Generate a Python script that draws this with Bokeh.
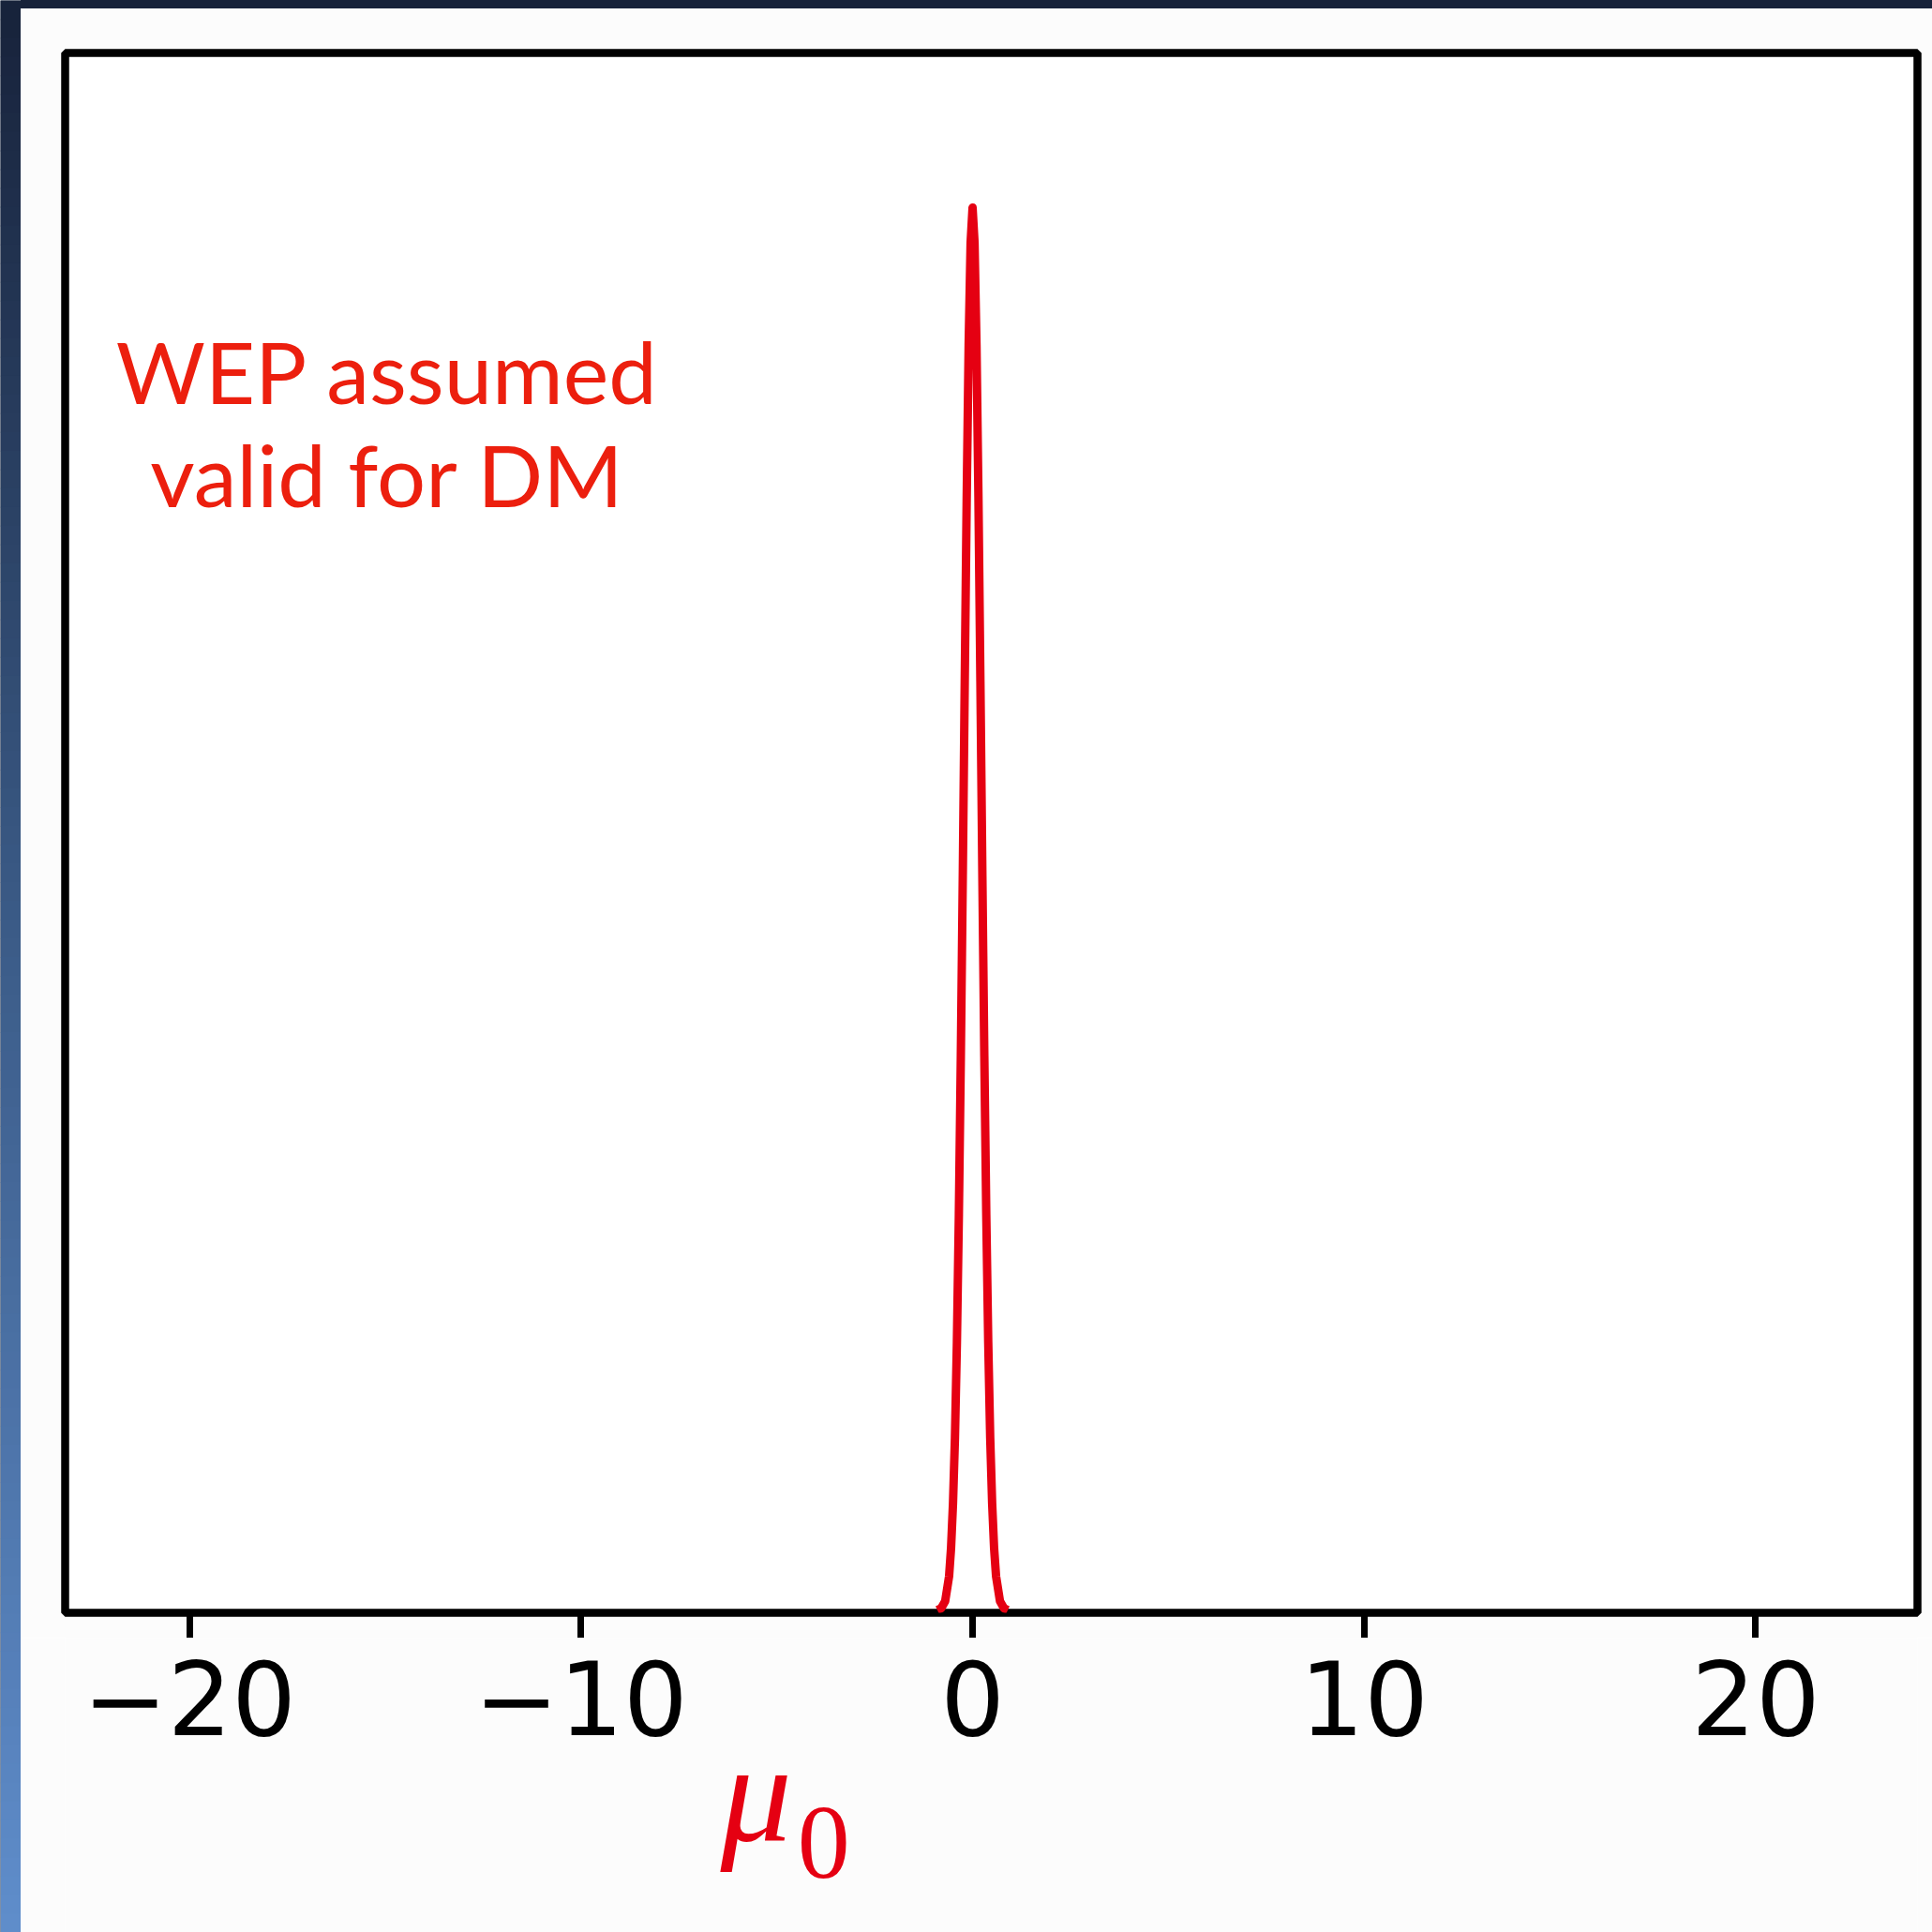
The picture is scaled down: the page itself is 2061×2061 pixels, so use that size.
from bokeh.plotting import figure
from bokeh.models import Label, FixedTicker, Div, Range1d
from bokeh.layouts import row, column
from bokeh.embed import file_html
from bokeh.resources import INLINE

# ---- data ----
mu_x = [-0.9, -0.8, -0.7, -0.6, -0.55, -0.5, -0.45, -0.4, -0.35, -0.3, -0.25, -0.2, -0.15, -0.1, -0.05,
        0.0, 0.05, 0.1, 0.15, 0.2, 0.25, 0.3, 0.35, 0.4, 0.45, 0.5, 0.55, 0.6, 0.7, 0.8, 0.9]
density = [0.0, 0.0013, 0.0063, 0.024, 0.044, 0.076, 0.123, 0.191, 0.282, 0.395, 0.524, 0.662, 0.793, 0.902, 0.975,
           1.0, 0.975, 0.902, 0.793, 0.662, 0.524, 0.395, 0.282, 0.191, 0.123, 0.076, 0.044, 0.024, 0.0063, 0.0013, 0.0]
tick_values = [-20, -10, 0, 10, 20]
tick_labels = ["\u221220", "\u221210", "0", "10", "20"]
annotation_lines = ["WEP assumed", "valid for DM"]
x_label_main = "\u03bc"
x_label_sub = "0"

RED = "#e50012"
TEXT_RED = "#ec1f0e"
DARK = "#17223a"

# ---- left gradient strip ----
def hex2rgb(h):
    h = h.lstrip("#")
    return [int(h[i:i + 2], 16) for i in (0, 2, 4)]

stops = [(0.0, "#17223a"), (0.45, "#395883"), (1.0, "#5f8dcb")]
def grad(t):
    for (t0, c0), (t1, c1) in zip(stops[:-1], stops[1:]):
        if t0 <= t <= t1:
            f = (t - t0) / (t1 - t0)
            a, b = hex2rgb(c0), hex2rgb(c1)
            return "#%02x%02x%02x" % tuple(int(round(a[i] + (b[i] - a[i]) * f)) for i in range(3))
    return stops[-1][1]

H = 2061
n_bands = 103
band_h = H / n_bands
strip = figure(width=22, height=H, x_range=(0, 1), y_range=(H, 0), min_border=0,
               toolbar_location=None, output_backend="svg", x_axis_location=None, y_axis_location=None)
strip.outline_line_color = None
strip.grid.visible = False
strip.background_fill_color = DARK
strip.border_fill_color = DARK
tops = [i * band_h for i in range(n_bands)]
bottoms = [(i + 1) * band_h + 0.8 for i in range(n_bands)]
cols = [grad((i + 0.5) / n_bands) for i in range(n_bands)]
strip.quad(left=0, right=1, top=tops, bottom=bottoms, fill_color=cols, line_color=None)

# ---- top dark bar ----
topbar = Div(text="", width=2039, height=9, margin=0,
             styles={"background-color": DARK, "width": "2039px", "height": "9px"})

# ---- main plot ----
xr = Range1d(-23.175, 24.132)
p = figure(width=2039, height=1738, x_range=xr, y_range=(-0.002, 1.1103),
           min_border_left=47, min_border_right=16, min_border_top=47, min_border_bottom=27,
           toolbar_location=None, output_backend="svg", y_axis_location=None)
p.background_fill_color = "white"
p.border_fill_color = "#fcfcfc"
p.outline_line_color = "black"
p.outline_line_width = 8.5
p.grid.visible = False

p.line(mu_x, density, line_color=RED, line_width=9, line_join="round")

ax = p.xaxis[0]
ax.ticker = FixedTicker(ticks=tick_values)
ax.major_label_overrides = {v: "" for v in tick_values}
ax.axis_line_color = None
ax.major_tick_line_color = "black"
ax.major_tick_line_width = 7
ax.major_tick_in = 0
ax.major_tick_out = 27
ax.minor_tick_line_color = None
ax.major_label_text_font_size = "0px"
ax.major_label_standoff = 0

for line_text, yb in zip(annotation_lines, [0.884, 0.810]):
    p.add_layout(Label(x=-14.94, y=yb, text=line_text, text_align="center", text_baseline="alphabetic",
                       text_font="Lato", text_font_size="92px", text_color=TEXT_RED))

# ---- bottom strip: tick labels and axis title ----
bottom = figure(width=2039, height=314, x_range=xr, y_range=(-0.22995, -0.02005),
                min_border_left=47, min_border_right=16, min_border_top=0, min_border_bottom=0,
                toolbar_location=None, output_backend="svg", x_axis_location=None, y_axis_location=None)
bottom.outline_line_color = None
bottom.grid.visible = False
bottom.background_fill_color = "#fcfcfc"
bottom.border_fill_color = "#fcfcfc"

for v, s in zip(tick_values, tick_labels):
    bottom.add_layout(Label(x=v, y=-0.0628, text=s, text_align="center", text_baseline="alphabetic",
                            text_font="DejaVu Sans", text_font_size="108px", text_color="black"))

bottom.add_layout(Label(x=-6.44, y=-0.1310, text=x_label_main, text_align="left", text_baseline="alphabetic",
                        text_font="Liberation Serif", text_font_style="italic", text_font_size="152px",
                        text_color=RED))
bottom.add_layout(Label(x=-4.47, y=-0.1658, text=x_label_sub, text_align="left", text_baseline="alphabetic",
                        text_font="Liberation Serif", text_font_size="112px", text_color=RED))

layout = row(strip, column(topbar, p, bottom, spacing=0), spacing=0)
open("out.html", "w").write(file_html(layout, INLINE))
